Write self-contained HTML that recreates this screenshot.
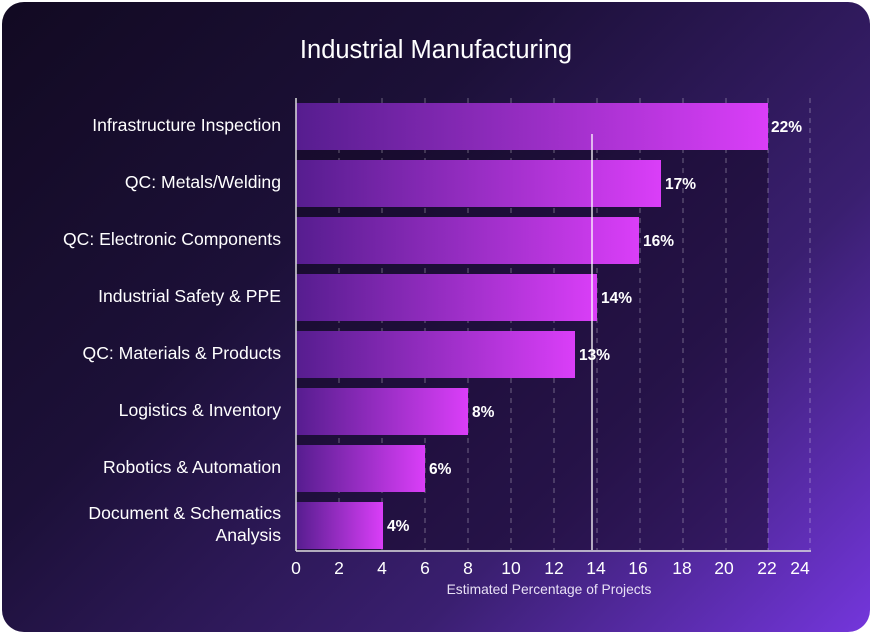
<!DOCTYPE html><html><head><style>
body{margin:0;background:#fff;width:872px;height:635px;overflow:hidden;font-family:"Liberation Sans",sans-serif}
.card{position:absolute;left:2px;top:2px;width:868px;height:630px;border-radius:22px;background:linear-gradient(135deg,#120a22 0%,#1c1038 35%,#3a1f70 70%,#7436dc 100%);overflow:hidden}
</style></head><body><div class="card"></div>
<svg width="872" height="635" style="position:absolute;left:0;top:0" font-family="Liberation Sans, sans-serif">
<defs><linearGradient id="g" x1="0" x2="1"><stop offset="0" stop-color="#561d8f"/><stop offset="1" stop-color="#da3ef8"/></linearGradient></defs>
<text x="436" y="58" fill="#fff" font-size="25.5" text-anchor="middle">Industrial Manufacturing</text>
<rect x="296" y="150" width="472" height="400" fill="#150a28" opacity="0.55"/>
<g stroke="#ffffff" stroke-opacity="0.35" stroke-dasharray="5,5">
<line x1="339" y1="98" x2="339" y2="550"/><line x1="382" y1="98" x2="382" y2="550"/><line x1="425" y1="98" x2="425" y2="550"/><line x1="468" y1="98" x2="468" y2="550"/><line x1="511" y1="98" x2="511" y2="550"/><line x1="554" y1="98" x2="554" y2="550"/><line x1="597" y1="98" x2="597" y2="550"/><line x1="640" y1="98" x2="640" y2="550"/><line x1="683" y1="98" x2="683" y2="550"/><line x1="726" y1="98" x2="726" y2="550"/><line x1="768" y1="98" x2="768" y2="550"/><line x1="810" y1="98" x2="810" y2="550"/>
</g>
<g fill="url(#g)">
<rect x="296" y="103" width="472" height="47"/><rect x="296" y="160" width="365" height="47"/><rect x="296" y="217" width="343" height="47"/><rect x="296" y="274" width="301" height="47"/><rect x="296" y="331" width="279" height="47"/><rect x="296" y="388" width="172" height="47"/><rect x="296" y="445" width="129" height="47"/><rect x="296" y="502" width="87" height="47"/>
</g>
<line x1="592" y1="134" x2="592" y2="550" stroke="#fff" stroke-width="1.3"/>
<g stroke="#ddd" stroke-width="1.5"><line x1="296" y1="98" x2="296" y2="551"/><line x1="296" y1="551" x2="811" y2="551"/></g>
<g fill="#fff" font-size="15.5" font-weight="bold">
<text x="771" y="132">22%</text><text x="665" y="189">17%</text><text x="643" y="246">16%</text><text x="601" y="303">14%</text><text x="579" y="360">13%</text><text x="472" y="417">8%</text><text x="429" y="474">6%</text><text x="387" y="531">4%</text>
</g>
<g fill="#fff" font-size="17.6" text-anchor="end">
<text x="281" y="131">Infrastructure Inspection</text><text x="281" y="188">QC: Metals/Welding</text><text x="281" y="245">QC: Electronic Components</text><text x="281" y="302">Industrial Safety &amp; PPE</text><text x="281" y="359">QC: Materials &amp; Products</text><text x="281" y="416">Logistics &amp; Inventory</text><text x="281" y="473">Robotics &amp; Automation</text><text x="281" y="519">Document &amp; Schematics</text><text x="281" y="541">Analysis</text>
</g>
<g fill="#fff" font-size="17.5" text-anchor="middle">
<text x="296" y="574">0</text><text x="339" y="574">2</text><text x="382" y="574">4</text><text x="425" y="574">6</text><text x="468" y="574">8</text><text x="511" y="574">10</text><text x="554" y="574">12</text><text x="596" y="574">14</text><text x="638" y="574">16</text><text x="682" y="574">18</text><text x="724" y="574">20</text><text x="767" y="574">22</text><text x="800" y="574">24</text>
</g>
<text x="549" y="594" fill="#e8e0f5" font-size="13.8" text-anchor="middle">Estimated Percentage of Projects</text>
</svg></body></html>
